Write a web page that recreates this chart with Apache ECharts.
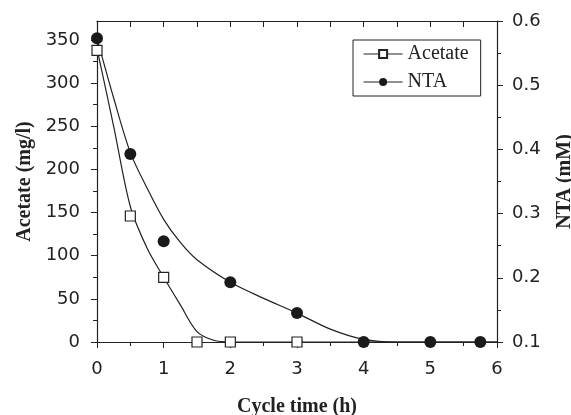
<!DOCTYPE html>
<html>
<head>
<meta charset="utf-8">
<script src="https://cdn.jsdelivr.net/npm/echarts@6/dist/echarts.min.js"></script>
<style>
  html, body { margin: 0; padding: 0; background: #fff; }
  #chart { width: 571px; height: 415px; }
</style>
</head>
<body>
<div id="chart"></div>
<script>
// measured points
var acetateT = [0, 0.5, 1, 1.5, 2, 3];
var acetateV = [338, 146, 75, 0, 0, 0];
var ntaT = [0, 0.5, 1, 2, 3, 4, 5, 5.75];
var ntaV = [0.573, 0.393, 0.257, 0.193, 0.145, 0.1, 0.1, 0.1];
// fitted curves
var acetateFitT = [0, 0.25, 0.5, 0.75, 1, 1.25, 1.5, 1.75, 2, 6];
var acetateFitV = [340, 250, 157, 109, 75, 43, 12, 2, 0, 0];
var ntaFitT = [0, 0.25, 0.5, 0.75, 1, 1.25, 1.5, 2, 2.5, 3, 3.5, 4, 4.5, 6];
var ntaFitV = [0.573, 0.48, 0.395, 0.34, 0.291, 0.255, 0.228, 0.193, 0.168, 0.145, 0.12, 0.104, 0.1, 0.1];
// tick labels
var leftTicks = [0, 50, 100, 150, 200, 250, 300, 350];
var leftMinor = [25, 75, 125, 175, 225, 275, 325];

function pairs(xs, ys) {
  var out = [];
  for (var i = 0; i < xs.length; i++) out.push([xs[i], ys[i]]);
  return out;
}

var chart = echarts.init(document.getElementById('chart'));
var axisCol = '#222';
var tickFont = { fontFamily: 'DejaVu Sans', fontSize: 18, color: '#222' };
var nameFont = { fontFamily: 'Liberation Serif', fontSize: 20, fontWeight: 'bold', color: '#222' };

var option = {
  animation: false,
  backgroundColor: '#fff',
  grid: { left: 97, right: 74, top: 21, bottom: 73, outerBoundsMode: 'none', containLabel: false },
  legend: {
    orient: 'vertical',
    left: 353,
    top: 40,
    width: 129,
    padding: [4, 12, 4, 10],
    borderColor: '#222',
    borderWidth: 1,
    itemWidth: 39,
    itemHeight: 10,
    itemGap: 8,
    textStyle: { fontFamily: 'Liberation Serif', fontSize: 20, color: '#222' },
    data: [
      { name: 'Acetate', lineStyle: { opacity: 1, width: 1.2, color: '#222' } },
      { name: 'NTA', lineStyle: { opacity: 1, width: 1.2, color: '#222' } }
    ]
  },
  xAxis: [{
    type: 'value', min: 0, max: 6, interval: 1,
    name: 'Cycle time (h)', nameLocation: 'middle', nameGap: 55,
    nameTextStyle: nameFont,
    axisLine: { onZero: false, lineStyle: { color: axisCol, width: 1.2 } },
    axisTick: { length: 6, lineStyle: { color: axisCol } },
    minorTick: { show: true, splitNumber: 2, length: 4, lineStyle: { color: axisCol } },
    axisLabel: Object.assign({ margin: 18 }, tickFont),
    splitLine: { show: false }
  }, {
    type: 'value', min: 0, max: 6, interval: 0.5, position: 'top',
    axisLine: { onZero: false, lineStyle: { color: axisCol, width: 1.2 } },
    axisTick: { inside: true, length: 6, lineStyle: { color: axisCol } },
    axisLabel: { show: false },
    splitLine: { show: false }
  }],
  yAxis: [{
    type: 'value', min: 0, max: 372,
    name: 'Acetate (mg/l)', nameLocation: 'middle', nameGap: 62, nameRotate: 90,
    nameTextStyle: nameFont,
    axisLine: { show: true, onZero: false, lineStyle: { color: axisCol, width: 1.2 } },
    axisTick: { length: 6, customValues: leftTicks, lineStyle: { color: axisCol } },
    axisLabel: Object.assign({ margin: 17, customValues: leftTicks }, tickFont),
    splitLine: { show: false }
  }, {
    type: 'value', min: 0.1, max: 0.6, interval: 0.1, position: 'right',
    name: 'NTA (mM)', nameLocation: 'middle', nameGap: 58, nameRotate: 90,
    nameTextStyle: nameFont,
    axisLine: { show: true, onZero: false, lineStyle: { color: axisCol, width: 1.2 } },
    axisTick: { length: 6, lineStyle: { color: axisCol } },
    minorTick: { show: true, splitNumber: 2, length: 4, lineStyle: { color: axisCol } },
    axisLabel: Object.assign({ margin: 15, formatter: function (v) { return v.toFixed(1); } }, tickFont),
    splitLine: { show: false }
  }, {
    // minor ticks of the left axis
    type: 'value', min: 0, max: 372, position: 'left',
    axisLine: { show: false, onZero: false },
    axisTick: { length: 4, customValues: leftMinor, lineStyle: { color: axisCol } },
    axisLabel: { show: false },
    splitLine: { show: false }
  }],
  series: [{
    name: 'Acetate fit', type: 'line', xAxisIndex: 0, yAxisIndex: 0,
    data: pairs(acetateFitT, acetateFitV),
    smooth: 0.3, symbol: 'none',
    lineStyle: { color: '#222', width: 1.2 }, z: 2
  }, {
    name: 'NTA fit', type: 'line', xAxisIndex: 0, yAxisIndex: 1,
    data: pairs(ntaFitT, ntaFitV),
    smooth: 0.3, symbol: 'none',
    lineStyle: { color: '#222', width: 1.2 }, z: 2
  }, {
    name: 'Acetate', type: 'line', xAxisIndex: 0, yAxisIndex: 0,
    data: pairs(acetateT, acetateV),
    symbol: 'rect', symbolSize: 10,
    lineStyle: { opacity: 0 },
    itemStyle: { color: '#fff', borderColor: '#222', borderWidth: 1.2 }, z: 4
  }, {
    name: 'NTA', type: 'line', xAxisIndex: 0, yAxisIndex: 1,
    data: pairs(ntaT, ntaV),
    symbol: 'circle', symbolSize: 12,
    lineStyle: { opacity: 0 },
    itemStyle: { color: '#1a1a1a' }, z: 5
  }]
};
chart.setOption(option);
</script>
</body>
</html>
